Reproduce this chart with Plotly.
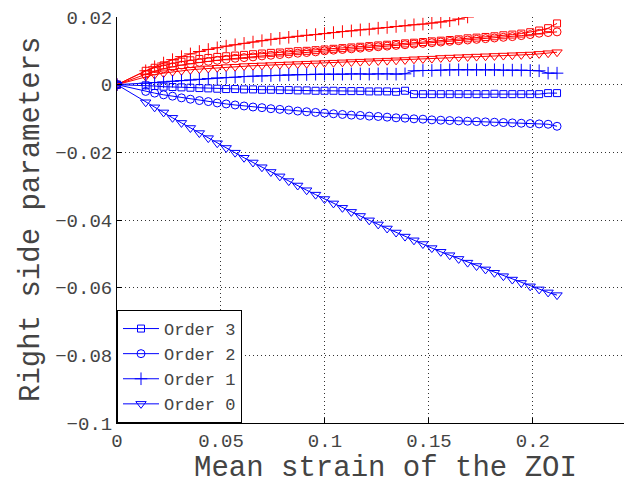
import plotly.graph_objects as go

# Mean strain of the ZOI (x positions of the samples)
strain = [0, 0.0138, 0.0181, 0.0224, 0.0267, 0.0310, 0.0353, 0.0396, 0.0439, 0.0482, 0.0525,
          0.0568, 0.0611, 0.0654, 0.0697, 0.0740, 0.0783, 0.0826, 0.0869, 0.0912, 0.0955,
          0.0998, 0.1041, 0.1084, 0.1127, 0.1170, 0.1213, 0.1256, 0.1299, 0.1342, 0.1385,
          0.1428, 0.1471, 0.1514, 0.1557, 0.1600, 0.1643, 0.1686, 0.1729, 0.1772, 0.1815,
          0.1858, 0.1901, 0.1944, 0.1987, 0.2030, 0.2073, 0.2116]

# Blue series (in legend)
blue_order3 = [0, -.0002, -.0004, -.0006, -.0007, -.0008, -.0009, -.0010, -.0011, -.0012, -.0013,
               -.0013, -.0014, -.0014, -.0015, -.0015, -.0016, -.0016, -.0017, -.0017, -.0018,
               -.0018, -.0018, -.0019, -.0019, -.0019, -.0020, -.0020, -.0020, -.0021, -.0018,
               -.0028, -.0028, -.0028, -.0028, -.0028, -.0028, -.0028, -.0028, -.0028, -.0027,
               -.0028, -.0028, -.0028, -.0028, -.0028, -.0025, -.0025]
blue_order2 = [0, -.0020, -.0025, -.0030, -.0034, -.0039, -.0043, -.0047, -.0050, -.0054, -.0057,
               -.0060, -.0063, -.0066, -.0068, -.0071, -.0073, -.0075, -.0078, -.0080, -.0082,
               -.0084, -.0086, -.0088, -.0090, -.0091, -.0093, -.0094, -.0096, -.0098, -.0099,
               -.0101, -.0102, -.0104, -.0105, -.0106, -.0107, -.0108, -.0109, -.0110, -.0111,
               -.0112, -.0113, -.0114, -.0115, -.0116, -.0117, -.0123]
blue_order1 = [0, .0004, .0006, .0008, .0010, .0012, .0014, .0016, .0018, .0020, .0021,
               .0022, .0024, .0025, .0026, .0027, .0028, .0029, .0030, .0030, .0031,
               .0031, .0031, .0031, .0032, .0032, .0031, .0032, .0032, .0031, .0032,
               .0041, .0042, .0042, .0043, .0044, .0044, .0044, .0044, .0044, .0044,
               .0043, .0043, .0043, .0042, .0041, .0034, .0034]
blue_order0 = [0, -.0052, -.0067, -.0082, -.0098, -.0113, -.0128, -.0143, -.0158, -.0173, -.0187,
               -.0201, -.0216, -.0230, -.0244, -.0258, -.0271, -.0285, -.0298, -.0312, -.0325,
               -.0338, -.0351, -.0364, -.0376, -.0388, -.0401, -.0413, -.0425, -.0437, -.0449,
               -.0460, -.0471, -.0483, -.0494, -.0504, -.0515, -.0526, -.0536, -.0546, -.0556,
               -.0566, -.0576, -.0586, -.0596, -.0605, -.0614, -.0622]

# Red series (not in legend)
red_order3 = [0, .0041, .0050, .0057, .0063, .0068, .0072, .0076, .0079, .0082, .0084,
              .0086, .0088, .0090, .0092, .0094, .0095, .0097, .0099, .0100, .0102,
              .0104, .0106, .0108, .0110, .0112, .0114, .0116, .0118, .0120, .0122,
              .0124, .0126, .0128, .0130, .0132, .0134, .0137, .0139, .0141, .0143,
              .0146, .0148, .0151, .0155, .0160, .0167, .0181]
red_order2 = [0, .0031, .0040, .0047, .0053, .0058, .0062, .0066, .0069, .0072, .0075,
              .0078, .0080, .0082, .0085, .0087, .0089, .0091, .0093, .0095, .0097,
              .0100, .0102, .0104, .0106, .0108, .0110, .0112, .0114, .0116, .0118,
              .0120, .0122, .0124, .0126, .0128, .0130, .0132, .0134, .0136, .0138,
              .0140, .0142, .0145, .0148, .0152, .0154, .0156]
red_order1 = [0, .0041, .0053, .0064, .0074, .0083, .0091, .0098, .0104, .0109, .0114,
              .0118, .0122, .0126, .0130, .0134, .0137, .0140, .0143, .0146, .0148,
              .0151, .0154, .0157, .0159, .0162, .0164, .0167, .0169, .0172, .0174,
              .0177, .0179, .0182, .0185, .0189, .0194, .0200]
red_order0 = [0, .0024, .0030, .0034, .0038, .0041, .0044, .0046, .0048, .0050, .0052,
              .0053, .0055, .0056, .0057, .0058, .0059, .0060, .0061, .0062, .0063,
              .0064, .0065, .0066, .0067, .0068, .0069, .0070, .0071, .0072, .0073,
              .0075, .0076, .0077, .0079, .0080, .0081, .0082, .0083, .0084, .0085,
              .0086, .0087, .0088, .0089, .0091, .0093, .0096]

legend_names = ["Order 3", "Order 2", "Order 1", "Order 0"]
symbols = ["square-open", "circle-open", "cross-thin-open", "triangle-down-open"]
sizes = [7, 8, 9, 9]

x_title = "Mean strain of the ZOI"
y_title = "Right side parameters"

BLUE = "rgb(0,0,255)"
RED = "rgb(255,0,0)"
FONT = "Liberation Mono"
TXT = "#444444"

fig = go.Figure()

reds = [red_order3, red_order2, red_order1, red_order0]
blues = [blue_order3, blue_order2, blue_order1, blue_order0]

for ys, sym, sz in zip(reds, symbols, sizes):
    fig.add_trace(go.Scatter(
        x=strain[:len(ys)], y=ys, mode="lines+markers", showlegend=False,
        line=dict(color=RED, width=1),
        marker=dict(symbol=sym, size=sz, color=RED, line=dict(color=RED, width=1)),
    ))

for ys, name, sym, sz in zip(blues, legend_names, symbols, sizes):
    fig.add_trace(go.Scatter(
        x=strain[:len(ys)], y=ys, mode="lines+markers", name=name,
        line=dict(color=BLUE, width=1),
        marker=dict(symbol=sym, size=sz, color=BLUE, line=dict(color=BLUE, width=1)),
    ))

axis_common = dict(
    showline=True, linecolor="black", linewidth=1,
    ticks="inside", ticklen=5, tickcolor="black",
    showgrid=True, gridcolor="#333333", griddash="1px,3px", gridwidth=1,
    zeroline=False, mirror=False,
    tickfont=dict(family=FONT, size=19, color=TXT),
)

fig.update_layout(
    width=632, height=489,
    margin=dict(l=117, r=8, t=15, b=66),
    paper_bgcolor="white", plot_bgcolor="white",
    font=dict(family=FONT, color=TXT),
    xaxis=dict(range=[0, 0.2438], tickvals=[0, 0.05, 0.1, 0.15, 0.2],
               ticktext=["0", "0.05", "0.1", "0.15", "0.2"],
               **axis_common),
    yaxis=dict(range=[-0.1, 0.02], tickvals=[-0.1, -0.08, -0.06, -0.04, -0.02, 0, 0.02],
               ticktext=["\u22120.1", "\u22120.08", "\u22120.06", "\u22120.04", "\u22120.02", "0", "0.02"],
               **axis_common),
    legend=dict(x=0, y=0, xanchor="left", yanchor="bottom",
                bgcolor="white", bordercolor="black", borderwidth=1,
                font=dict(family=FONT, size=17, color=TXT),
                tracegroupgap=0, itemwidth=36),
    annotations=[
        dict(text=x_title, xref="paper", yref="paper", x=(385 - 117) / 507, y=-(469 - 423) / 408,
             xanchor="center", yanchor="middle", showarrow=False,
             font=dict(family=FONT, size=29, color=TXT)),
        dict(text=y_title, xref="paper", yref="paper", x=-(117 - 31) / 507, y=(423 - 219) / 408,
             xanchor="center", yanchor="middle", showarrow=False, textangle=-90,
             font=dict(family=FONT, size=29, color=TXT)),
    ],
)

fig.write_html("out.html")
